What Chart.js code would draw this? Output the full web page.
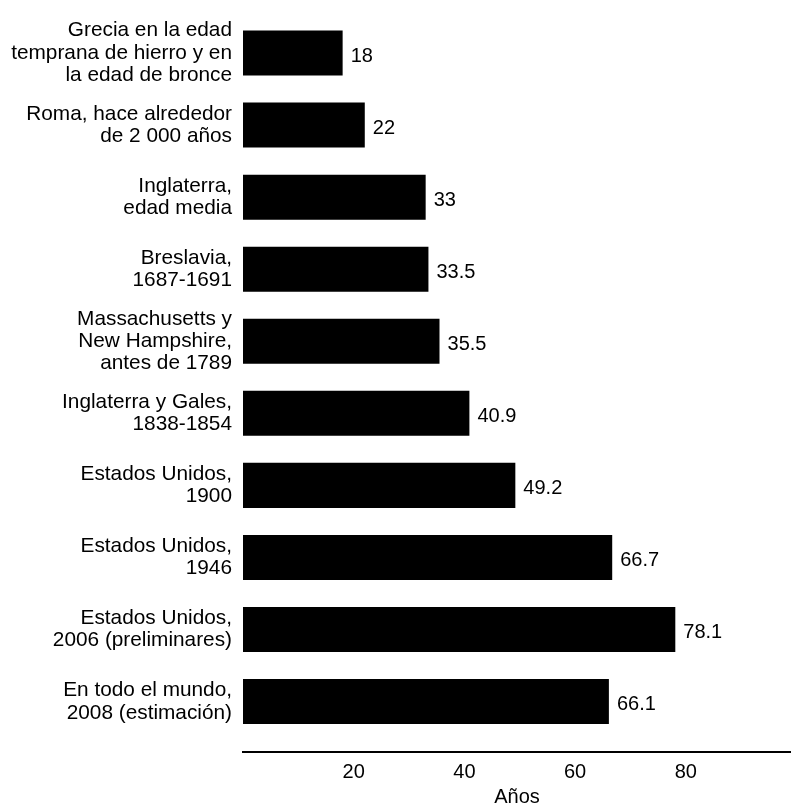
<!DOCTYPE html>
<html>
<head>
<meta charset="utf-8">
<script src="https://cdn.jsdelivr.net/npm/chart.js@4/dist/chart.umd.min.js"></script>
<style>
  html, body { margin: 0; padding: 0; background: #fff; }
  #wrap { width: 791px; height: 807px; }
</style>
</head>
<body>
<div id="wrap"><canvas id="lifeChart"></canvas></div>
<script>
// labels, top to bottom (one array per line break)
const places = [
  ['Grecia en la edad', 'temprana de hierro y en', 'la edad de bronce'],
  ['Roma, hace alrededor', 'de 2 000 años'],
  ['Inglaterra,', 'edad media'],
  ['Breslavia,', '1687-1691'],
  ['Massachusetts y', 'New Hampshire,', 'antes de 1789'],
  ['Inglaterra y Gales,', '1838-1854'],
  ['Estados Unidos,', '1900'],
  ['Estados Unidos,', '1946'],
  ['Estados Unidos,', '2006 (preliminares)'],
  ['En todo el mundo,', '2008 (estimación)']
]
const years = [18, 22, 33, 33.5, 35.5, 40.9, 49.2, 66.7, 78.1, 66.1]
const xTicks = [20, 40, 60, 80]
const axisTitle = 'Años'

const FONT = '"Liberation Sans", Arial, Helvetica, sans-serif'
Chart.defaults.font.family = FONT
Chart.defaults.color = '#000'

// draws the number just past the end of each bar
const valueLabels = {
  id: 'valueLabels',
  afterDatasetsDraw(chart) {
    const { ctx } = chart
    const meta = chart.getDatasetMeta(0)
    ctx.save()
    ctx.font = '20px ' + FONT
    ctx.fillStyle = '#000'
    ctx.textBaseline = 'middle'
    ctx.textAlign = 'left'
    meta.data.forEach((bar, i) => {
      ctx.fillText(String(years[i]), bar.x + 8, bar.y + 3)
    })
    ctx.restore()
  }
}

const ctx = document.getElementById('lifeChart').getContext('2d')

const chart = new Chart(ctx, {
  type: 'bar',
  data: {
    datasets: [
      {
        data: years.map((v, i) => ({ x: v, y: i })),
        backgroundColor: '#000',
        borderWidth: 0,
        barPercentage: 0.625,
        categoryPercentage: 1
      }
    ]
  },
  options: {
    indexAxis: 'y',
    responsive: true,
    maintainAspectRatio: false,
    animation: false,
    layout: { padding: { top: 17, right: 0, bottom: 0, left: 0 } },
    plugins: {
      legend: { display: false },
      tooltip: { enabled: false }
    },
    scales: {
      y: {
        type: 'linear',
        reverse: true,
        offset: false,
        min: -0.5,
        max: 9.7,
        grid: { display: false, drawTicks: false, tickLength: 0 },
        border: { display: false },
        afterBuildTicks: scale => {
          scale.ticks = places.map((_, i) => ({ value: i }))
        },
        afterFit: scale => {
          scale.width = 243
          scale.paddingTop = 0
          scale.paddingBottom = 0
        },
        ticks: {
          autoSkip: false,
          callback: v => places[v],
          color: '#000',
          padding: 11,
          font: { size: 20.8, lineHeight: 1.08 }
        }
      },
      x: {
        type: 'linear',
        min: 0,
        max: 99,
        grid: { display: false, drawTicks: false, tickLength: 0 },
        border: { display: true, color: '#000', width: 2 },
        afterBuildTicks: scale => {
          scale.ticks = xTicks.map(v => ({ value: v }))
        },
        afterFit: scale => {
          scale.height = 55
        },
        ticks: {
          color: '#000',
          padding: 10,
          maxRotation: 0,
          font: { size: 20, lineHeight: 1 }
        },
        title: {
          display: true,
          text: axisTitle,
          color: '#000',
          font: { size: 20, lineHeight: 1 },
          padding: { top: 0, bottom: 0 }
        }
      }
    }
  },
  plugins: [valueLabels]
})
</script>
</body>
</html>
